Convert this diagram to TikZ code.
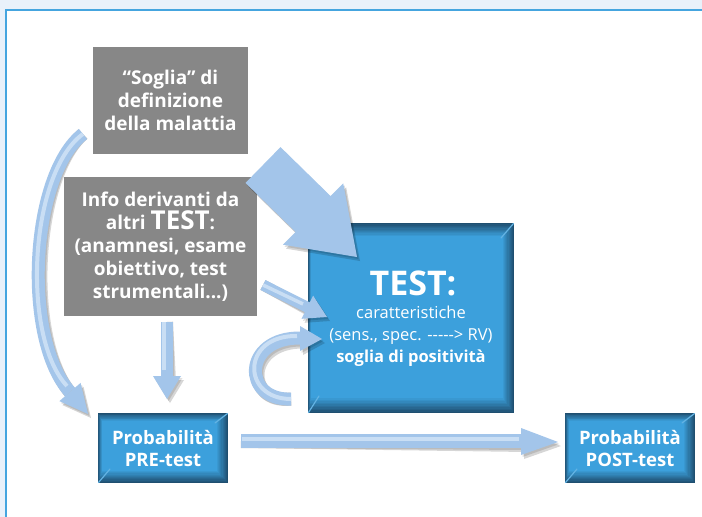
\documentclass[tikz,border=0pt]{standalone}
\usepackage{fontspec}
\setmainfont{Open Sans}
\definecolor{bg}{HTML}{E9F1FA}
\definecolor{framec}{HTML}{45A5DF}
\definecolor{gbox}{HTML}{878787}
\definecolor{bdark}{HTML}{1F4F70}
\definecolor{bmain}{HTML}{3CA0DC}
\definecolor{arr}{HTML}{A3C5EA}
\definecolor{arrl}{HTML}{C9DEF4}
\newcommand\myblue[8]{%
  \foreach \i in {0,...,10}{%
    \pgfmathtruncatemacro\cc{\i*10}%
    \fill[bmain!\cc!bdark] ({#1+\i*#5/10},{#2+\i*#6/10}) rectangle ({#3-\i*#7/10},{#4-\i*#8/10});
  }%
  \draw[bmain!80!white,line width=1.2pt,line cap=round] ({#3-0.5},{#2+0.5}) -- ({#3-#7-2},{#2+#6+2});
  \draw[bmain!80!white,line width=1.2pt,line cap=round] ({#1+0.5},{#4-0.5}) -- ({#1+#5+8},{#4-#8-2});
  }
\newcommand\myarrows[2]{% #1 fill style, #2 extra for strokes
  % big arrow
  \fill[#1] (245.5,182.9) -- (295.6,231.9) -- (283,244.7) -- (357,257) -- (343.2,183.3) -- (330.6,196.1) -- (280.5,147.1) -- cycle;
  % left long curved arrow
  \draw[#1,#2,line width=13pt] (lt) .. controls (30,175) and (22,339) .. (70,392);
  \fill[#1] (59.4,401.1) -- (88,414) -- (80.6,382.9) -- cycle;
  % vertical arrow
  \draw[#1,#2,line width=12pt] (vt) -- (167,377);
  \fill[#1] (153,376) -- (167,399) -- (181,376) -- cycle;
  % small diagonal arrow
  \draw[#1,#2,line width=11pt] (dt) -- (308,307.6);
  \fill[#1] (301.5,318.8) -- (327,317) -- (313.1,295.6) -- cycle;
  % C arrow
  \draw[#1,#2,line width=13pt] (ct) .. controls (242,401) and (242,337) .. (301,338);
  \fill[#1] (300,326) -- (322,339) -- (300,351) -- cycle;
  % horizontal arrow
  \draw[#1,#2,line width=14pt] (ht) -- (524,441);
  \fill[#1] (521,428) -- (558,442) -- (521,455) -- cycle;
}
\begin{document}
\begin{tikzpicture}[x=1pt,y=-1pt,
  gnode/.style={fill=gbox,text=white,align=center,inner sep=0pt,
    font=\fontsize{19}{23}\selectfont\bfseries},
  bnode/.style={text=white,align=center,inner sep=0pt,
    font=\fontsize{18.5}{22}\selectfont\bfseries}]
\useasboundingbox (0,0) rectangle (702,517);
\clip (0,0) rectangle (702,517);
\fill[bg] (0,0) rectangle (702,517);
\fill[white] (6,10) rectangle (720,540);
\draw[framec,line width=2.5pt] (6,10) rectangle (720,540);

% gray boxes
\node[gnode,minimum width=155pt,minimum height=107pt] (soglia) at (170.5,100.5)
  {“Soglia” di\\definizione\\della malattia};
\node[gnode,minimum width=193pt,minimum height=139pt] (info) at (160.5,246.5)
  {Info derivanti da\\altri {\fontsize{26}{23}\selectfont TEST}:\\(anamnesi, esame\\obiettivo, test\\strumentali...)};

% blue boxes
\myblue{308}{223}{514}{413}{3}{13}{11}{15}
\myblue{98}{413}{228}{483}{4}{8}{11}{12}
\myblue{565}{413}{695}{483}{4}{8}{11}{12}
\node[bnode,minimum width=206pt,minimum height=190pt] (test) at (411,318) {};
\node[text=white,inner sep=0pt,font=\fontsize{34}{34}\selectfont\bfseries] (testt) at (413,283) {TEST:};
\node[text=white,align=center,inner sep=0pt,font=\fontsize{16.5}{22}\selectfont,anchor=north] (testd) at (411,306)
  {caratteristiche\\(sens., spec. \mbox{-{}-{}-{}-{}->} RV)\\\textbf{soglia di positività}};
\node[bnode,minimum width=130pt,minimum height=70pt] (pre) at (163,448) {Probabilità\\PRE-test};
\node[bnode,minimum width=130pt,minimum height=70pt] (post) at (630,448) {Probabilità\\POST-test};

% arrow tail coordinates
\coordinate (lt) at (83,134);
\coordinate (vt) at (167,322);
\coordinate (dt) at (263,285);
\coordinate (ct) at (291,399);
\coordinate (ht) at (241,441);

% shadows
\begin{scope}[shift={(3,4)},transparency group,opacity=.16]
  \myarrows{black}{}
\end{scope}
\begin{scope}[shift={(1.5,2)},transparency group,opacity=.12]
  \myarrows{black}{}
\end{scope}
% arrows
\myarrows{arr}{}
\begin{scope}[shift={(-1,-2)}]
  \draw[arrl,line width=4pt] (lt) .. controls (30,175) and (22,339) .. (68,388);
  \draw[arrl,line width=4pt] (165,324) -- (165,372);
  \draw[arrl,line width=3.5pt] (dt) -- (304,306);
  \draw[arrl,line width=4pt] (ct) .. controls (242,401) and (242,337) .. (298,338);
  \draw[arrl,line width=4pt] (243,441) -- (520,441);
\end{scope}
\end{tikzpicture}
\end{document}
